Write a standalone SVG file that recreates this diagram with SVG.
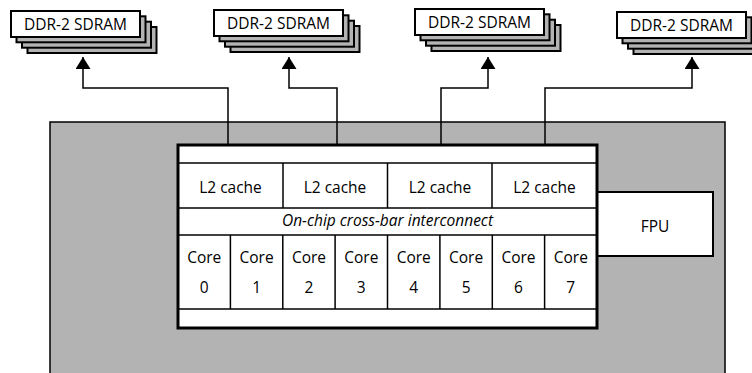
<svg xmlns="http://www.w3.org/2000/svg" xmlns:xlink="http://www.w3.org/1999/xlink" width="752" height="373" viewBox="0 0 752 373">
  <style>
    .t { font-family: "Open Sans", "Liberation Sans", sans-serif; font-size: 15.5px; fill: #000; text-anchor: middle; }
    .it { font-style: italic; }
    .wire { fill: none; stroke: #000; stroke-width: 1.5; }
    .layer { fill: #b3b3b3; stroke: #000; stroke-width: 2; }
    .front { fill: #fff; stroke: #000; stroke-width: 2; }
  </style>
  <defs>
    <!-- stacked memory module, front face 129x26 at origin -->
    <g id="dimm">
      <rect class="layer" x="16.5" y="16" width="129" height="26"/>
      <rect class="layer" x="11" y="10.7" width="129" height="26"/>
      <rect class="layer" x="5.5" y="5.3" width="129" height="26"/>
      <rect class="front" x="0" y="0" width="129" height="26"/>
    </g>
    <marker id="arrow" viewBox="0 0 12 15" refX="12" refY="7.5" markerWidth="12" markerHeight="15" markerUnits="userSpaceOnUse" orient="auto">
      <path d="M0,0 L12,7.5 L0,15 Z" fill="#000"/>
    </marker>
  </defs>

  <rect width="752" height="373" fill="#fff"/>

  <!-- chip package -->
  <g id="chip">
    <rect x="50" y="122" width="675" height="260" fill="#b3b3b3" stroke="#000" stroke-width="1.5"/>
  </g>

  <!-- memory modules -->
  <g id="dram0">
    <use xlink:href="#dimm" x="11" y="11"/>
    <text class="t" x="75.5" y="30">DDR-2 SDRAM</text>
  </g>
  <g id="dram1">
    <use xlink:href="#dimm" x="214" y="10"/>
    <text class="t" x="278.5" y="29">DDR-2 SDRAM</text>
  </g>
  <g id="dram2">
    <use xlink:href="#dimm" x="415" y="9"/>
    <text class="t" x="479.5" y="28">DDR-2 SDRAM</text>
  </g>
  <g id="dram3">
    <use xlink:href="#dimm" x="617" y="12"/>
    <text class="t" x="681.5" y="31">DDR-2 SDRAM</text>
  </g>

  <!-- memory channels -->
  <g id="connectors">
    <path class="wire" d="M228,145 V88 H83 V57" marker-end="url(#arrow)"/>
    <path class="wire" d="M337,145 V88 H289 V57" marker-end="url(#arrow)"/>
    <path class="wire" d="M441,145 V88 H488 V57" marker-end="url(#arrow)"/>
    <path class="wire" d="M545,145 V88 H692 V57" marker-end="url(#arrow)"/>
  </g>

  <!-- floating point unit -->
  <g id="fpu">
    <rect x="597" y="192" width="116" height="64" fill="#fff" stroke="#000" stroke-width="2"/>
    <text class="t" x="655" y="232">FPU</text>
  </g>

  <!-- processor die -->
  <g id="die">
    <rect x="178" y="145" width="419" height="183" fill="#fff"/>
    <line class="wire" x1="178" y1="163" x2="597" y2="163"/>
    <line class="wire" x1="178" y1="208" x2="597" y2="208"/>
    <line class="wire" x1="178" y1="235" x2="597" y2="235"/>
    <line class="wire" x1="178" y1="309" x2="597" y2="309"/>
  </g>

  <g id="l2-0">
    <text class="t" x="230.5" y="193">L2 cache</text>
  </g>
  <g id="l2-1">
    <line class="wire" x1="283" y1="163" x2="283" y2="208"/>
    <text class="t" x="335" y="193">L2 cache</text>
  </g>
  <g id="l2-2">
    <line class="wire" x1="387.5" y1="163" x2="387.5" y2="208"/>
    <text class="t" x="440" y="193">L2 cache</text>
  </g>
  <g id="l2-3">
    <line class="wire" x1="492" y1="163" x2="492" y2="208"/>
    <text class="t" x="544.5" y="193">L2 cache</text>
  </g>

  <g id="crossbar">
    <text class="t it" x="387.5" y="226">On-chip cross-bar interconnect</text>
  </g>

  <g id="core0">
    <text class="t" x="204.2" y="263">Core</text>
    <text class="t" x="204.2" y="293">0</text>
  </g>
  <g id="core1">
    <line class="wire" x1="230.4" y1="235" x2="230.4" y2="309"/>
    <text class="t" x="256.6" y="263">Core</text>
    <text class="t" x="256.6" y="293">1</text>
  </g>
  <g id="core2">
    <line class="wire" x1="282.8" y1="235" x2="282.8" y2="309"/>
    <text class="t" x="309" y="263">Core</text>
    <text class="t" x="309" y="293">2</text>
  </g>
  <g id="core3">
    <line class="wire" x1="335.1" y1="235" x2="335.1" y2="309"/>
    <text class="t" x="361.3" y="263">Core</text>
    <text class="t" x="361.3" y="293">3</text>
  </g>
  <g id="core4">
    <line class="wire" x1="387.5" y1="235" x2="387.5" y2="309"/>
    <text class="t" x="413.7" y="263">Core</text>
    <text class="t" x="413.7" y="293">4</text>
  </g>
  <g id="core5">
    <line class="wire" x1="439.9" y1="235" x2="439.9" y2="309"/>
    <text class="t" x="466.1" y="263">Core</text>
    <text class="t" x="466.1" y="293">5</text>
  </g>
  <g id="core6">
    <line class="wire" x1="492.3" y1="235" x2="492.3" y2="309"/>
    <text class="t" x="518.5" y="263">Core</text>
    <text class="t" x="518.5" y="293">6</text>
  </g>
  <g id="core7">
    <line class="wire" x1="544.6" y1="235" x2="544.6" y2="309"/>
    <text class="t" x="570.8" y="263">Core</text>
    <text class="t" x="570.8" y="293">7</text>
  </g>

  <!-- die outline drawn last so it stays on top -->
  <rect x="178" y="145" width="419" height="183" fill="none" stroke="#000" stroke-width="3"/>
</svg>
